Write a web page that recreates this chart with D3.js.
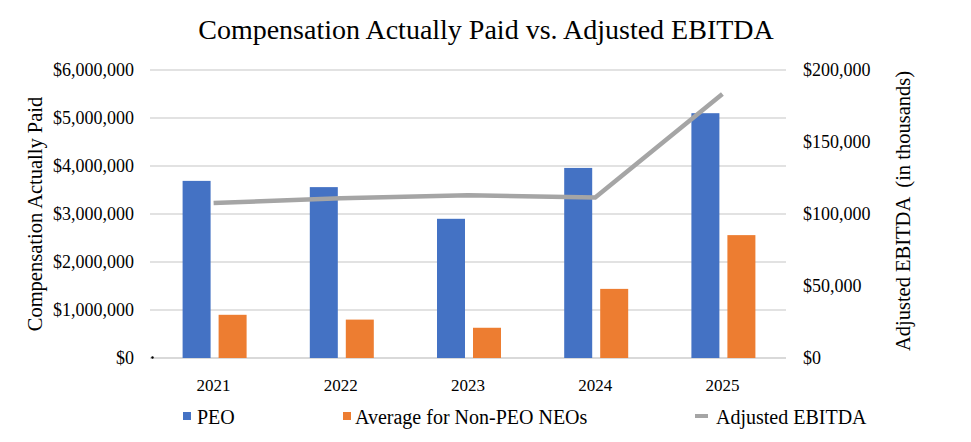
<!DOCTYPE html>
<html><head><meta charset="utf-8">
<script src="https://cdn.jsdelivr.net/npm/d3@7"></script>
<style>body{margin:0;background:#fff}svg{display:block}text{font-family:"Liberation Serif","Times New Roman",serif;fill:#000}</style>
</head><body><svg id="c" width="971" height="442"></svg>
<script>
const years = ["2021","2022","2023","2024","2025"];
const peo = [3690000, 3560000, 2900000, 3960000, 5100000];
const nonPeo = [900000, 800000, 630000, 1440000, 2560000];
const ebitda = [107600, 111000, 113000, 111500, 183300];
const leftTicks = [0,1000000,2000000,3000000,4000000,5000000,6000000];
const rightTicks = [0,50000,100000,150000,200000];

const svg = d3.select("#c");
const L=150, R=786, T=70, B=358;
const x = d3.scaleBand().domain(years).range([L,R]);
const yL = d3.scaleLinear().domain([0,6000000]).range([B,T]);
const yR = d3.scaleLinear().domain([0,200000]).range([B,T]);
const fmt = d3.format("$,");

// grid
svg.append("g").selectAll("line").data(leftTicks.filter(d=>d>0)).join("line")
  .attr("x1",L).attr("x2",R).attr("y1",d=>yL(d)).attr("y2",d=>yL(d))
  .attr("stroke","#d9d9d9").attr("stroke-width",1.3);
svg.append("line").attr("x1",L).attr("x2",R).attr("y1",B).attr("y2",B).attr("stroke","#d9d9d9").attr("stroke-width",2);
svg.append("circle").attr("cx",152.5).attr("cy",357.5).attr("r",1.2).attr("fill","#000");

// left axis labels
svg.append("g").selectAll("text").data(leftTicks).join("text")
  .attr("x",134).attr("y",d=>yL(d)+6).attr("text-anchor","end").attr("font-size",18).text(d=>fmt(d));
// right axis labels
svg.append("g").selectAll("text").data(rightTicks).join("text")
  .attr("x",803).attr("y",d=>yR(d)+6).attr("text-anchor","start").attr("font-size",18).text(d=>fmt(d));

// bars
const bw=28, gap=8;
const cx = d=>x(d)+x.bandwidth()/2;
svg.append("g").selectAll("rect").data(years).join("rect")
  .attr("x",(d)=>cx(d)-gap/2-bw+1).attr("width",bw)
  .attr("y",(d,i)=>yL(peo[i])).attr("height",(d,i)=>B-yL(peo[i])).attr("fill","#4472C4");
svg.append("g").selectAll("rect").data(years).join("rect")
  .attr("x",(d)=>cx(d)+gap/2+1).attr("width",bw)
  .attr("y",(d,i)=>yL(nonPeo[i])).attr("height",(d,i)=>B-yL(nonPeo[i])).attr("fill","#ED7D31");

// line
svg.append("path").datum(years).attr("fill","none").attr("stroke","#A5A5A5").attr("stroke-width",4.5)
  .attr("stroke-linejoin","round")
  .attr("d",d3.line().x(d=>cx(d)).y((d,i)=>yR(ebitda[i])));

// x labels
svg.append("g").selectAll("text").data(years).join("text")
  .attr("x",d=>cx(d)).attr("y",391).attr("text-anchor","middle").attr("font-size",17).text(d=>d);

// title
svg.append("text").attr("x",486).attr("y",39).attr("text-anchor","middle").attr("font-size",28).text("Compensation Actually Paid vs. Adjusted EBITDA");
// axis titles
svg.append("text").attr("transform","translate(42,214) rotate(-90)").attr("text-anchor","middle").attr("font-size",20.5).text("Compensation Actually Paid");
svg.append("text").attr("transform","translate(910,211) rotate(-90)").attr("text-anchor","middle").attr("font-size",20.5).attr("xml:space","preserve").text("Adjusted EBITDA  (in thousands)");

// legend
const lg = svg.append("g");
lg.append("rect").attr("x",183).attr("y",412).attr("width",8).attr("height",8).attr("fill","#4472C4");
lg.append("text").attr("x",197).attr("y",424).attr("font-size",20).text("PEO");
lg.append("rect").attr("x",343).attr("y",412).attr("width",8).attr("height",8).attr("fill","#ED7D31");
lg.append("text").attr("x",355).attr("y",424).attr("font-size",20).text("Average for Non-PEO NEOs");
lg.append("line").attr("x1",695).attr("x2",708).attr("y1",416).attr("y2",416).attr("stroke","#A5A5A5").attr("stroke-width",4);
lg.append("text").attr("x",716).attr("y",424).attr("font-size",20).text("Adjusted EBITDA");
</script></body></html>
